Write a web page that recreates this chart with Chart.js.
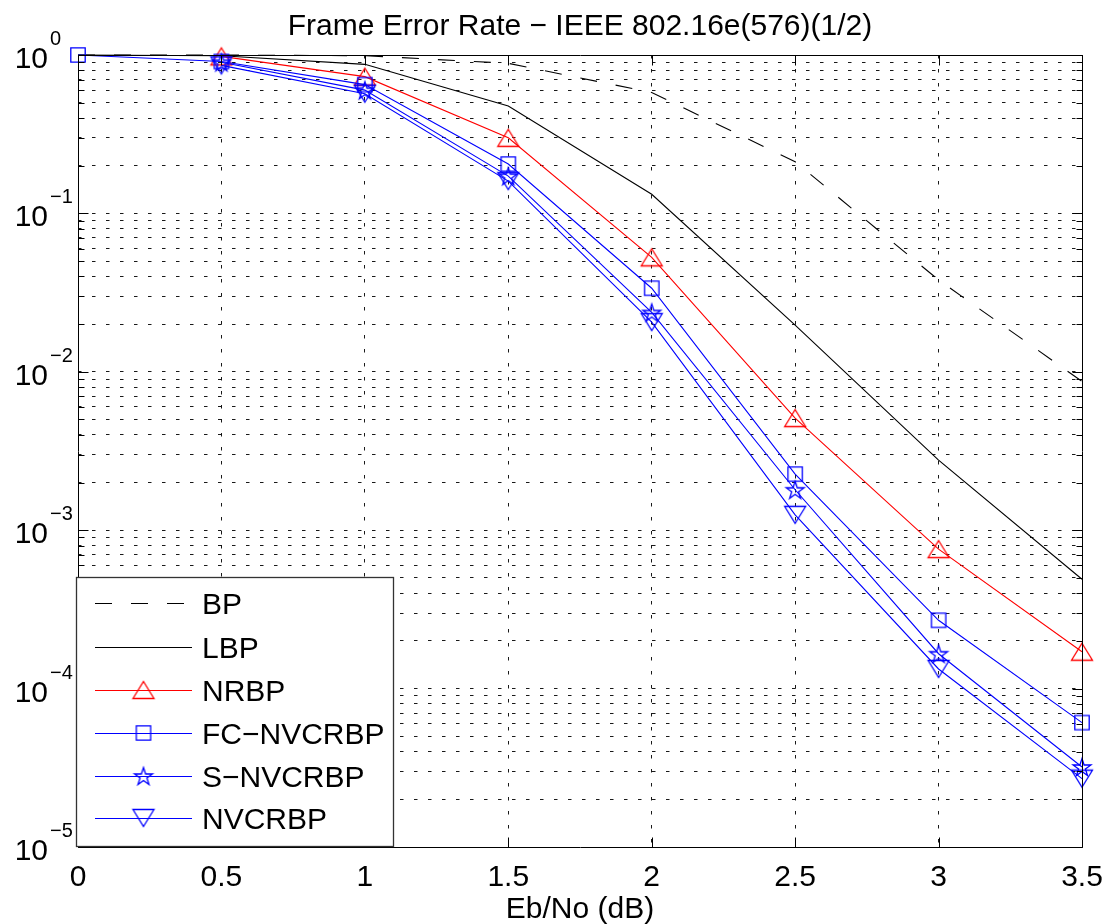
<!DOCTYPE html>
<html><head><meta charset="utf-8">
<script src="https://cdn.jsdelivr.net/npm/chart.js@4.4.0/dist/chart.umd.min.js"></script>
<style>html,body{margin:0;padding:0;background:#fff;}canvas{display:block;}</style>
</head><body>
<canvas id="c" width="1105" height="924"></canvas>
<script>
// ---- data ----
const ebno = [0, 0.5, 1, 1.5, 2, 2.5, 3, 3.5];
const bp       = [1.0, 1.0, 0.99, 0.886, 0.58, 0.212, 0.038, 0.0087];
const lbp      = [1.0, 0.99, 0.873, 0.477, 0.132, 0.0197, 0.00277, 0.00049];
const nrbp     = [null, 0.98, 0.73, 0.30, 0.0528, 0.0051, 0.00076, 0.000171];
const fcnvcrbp = [1.0, 0.91, 0.65, 0.205, 0.0337, 0.00226, 0.00027, 0.000061];
const snvcrbp  = [null, 0.90, 0.60, 0.172, 0.0237, 0.0018, 0.000166, 0.000032];
const nvcrbp   = [null, 0.86, 0.57, 0.16, 0.0206, 0.00125, 0.000133, 0.000027];
const seriesNames = ['BP', 'LBP', 'NRBP', 'FC\u2212NVCRBP', 'S\u2212NVCRBP', 'NVCRBP'];
const xTicks = [0, 0.5, 1, 1.5, 2, 2.5, 3, 3.5];
const xTickLabels = ['0', '0.5', '1', '1.5', '2', '2.5', '3', '3.5'];
const yMajor = [1, 1e-1, 1e-2, 1e-3, 1e-4, 1e-5];
const yExpLabels = ['0', '\u22121', '\u22122', '\u22123', '\u22124', '\u22125'];
const yMinorMantissa = [2, 3, 4, 5, 6, 7, 8, 9];
const titleText = 'Frame Error Rate \u2212 IEEE 802.16e(576)(1/2)';
const xTitle = 'Eb/No (dB)';

// ---- tick values ----
const yTickVals = [];
for (let e = -5; e <= 0; e++) {
  yTickVals.push(Math.pow(10, e));
  if (e < 0) yMinorMantissa.forEach(m => yTickVals.push(m * Math.pow(10, e)));
}
const isMajorY = v => yMajor.some(m => Math.abs(Math.log10(v) - Math.log10(m)) < 1e-9);

// ---- markers ----
function makeMarker(shape, color) {
  const s = 28, c = document.createElement('canvas');
  c.width = s; c.height = s;
  const g = c.getContext('2d');
  g.strokeStyle = color; g.lineWidth = 1.3; g.lineJoin = 'miter';
  const cx = s / 2, cy = s / 2;
  g.beginPath();
  if (shape === 'up') {
    g.moveTo(cx, cy - 8.5); g.lineTo(cx + 10.5, cy + 8.5); g.lineTo(cx - 10.5, cy + 8.5); g.closePath();
  } else if (shape === 'down') {
    g.moveTo(cx, cy + 8.5); g.lineTo(cx + 10.5, cy - 8.5); g.lineTo(cx - 10.5, cy - 8.5); g.closePath();
  } else if (shape === 'square') {
    g.rect(cx - 7.2, cy - 7.2, 14.4, 14.4);
  } else if (shape === 'star') {
    const R = 9.4, r = 3.6, oy = 0.9;
    for (let k = 0; k < 10; k++) {
      const a = -Math.PI / 2 + k * Math.PI / 5;
      const rr = (k % 2) ? r : R;
      const px = cx + rr * Math.cos(a), py = cy + oy + rr * Math.sin(a);
      if (k) g.lineTo(px, py); else g.moveTo(px, py);
    }
    g.closePath();
  }
  g.stroke();
  return c;
}
const RED = '#ff0000', BLUE = '#0000ff', BLACK = '#000000';
const mUp = makeMarker('up', RED), mSq = makeMarker('square', BLUE),
      mStar = makeMarker('star', BLUE), mDown = makeMarker('down', BLUE);

const seriesValues = [bp, lbp, nrbp, fcnvcrbp, snvcrbp, nvcrbp];
const seriesColors = [BLACK, BLACK, RED, BLUE, BLUE, BLUE];
const seriesDash = [[17, 19], [], [], [], [], []];
const seriesMarkers = [null, null, mUp, mSq, mStar, mDown];

const datasets = seriesValues.map((vals, i) => ({
  label: seriesNames[i],
  data: ebno.map((x, j) => ({ x, y: vals[j] })),
  borderColor: seriesColors[i],
  backgroundColor: 'rgba(0,0,0,0)',
  borderWidth: 1.1,
  borderDash: seriesDash[i],
  pointStyle: seriesMarkers[i] || 'circle',
  pointRadius: seriesMarkers[i] ? 10 : 0,
  pointHoverRadius: seriesMarkers[i] ? 10 : 0,
  tension: 0,
  fill: false,
  clip: false,
  order: 6 - i
}));

const FONT = '"Liberation Sans", Arial, Helvetica, sans-serif';
const al = v => Math.round(v) + 0.5;

const decor = {
  id: 'decor',
  afterDatasetsDraw(chart) {
    const { ctx, chartArea: a, scales: { x, y } } = chart;
    const L = al(a.left), R = al(a.right), T = al(a.top), B = al(a.bottom);
    ctx.save();
    ctx.setLineDash([]);
    ctx.strokeStyle = '#000'; ctx.lineWidth = 1;
    ctx.beginPath();
    ctx.rect(L, T, R - L, B - T);
    ctx.stroke();
    ctx.beginPath();
    xTicks.forEach(v => {
      const px = al(x.getPixelForValue(v));
      ctx.moveTo(px, B); ctx.lineTo(px, B - 10);
      ctx.moveTo(px, T); ctx.lineTo(px, T + 10);
    });
    yTickVals.forEach(v => {
      const py = al(y.getPixelForValue(v));
      const len = isMajorY(v) ? 10 : 6;
      ctx.moveTo(L, py); ctx.lineTo(L + len, py);
      ctx.moveTo(R, py); ctx.lineTo(R - len, py);
    });
    ctx.stroke();
    ctx.restore();
  },
  afterDraw(chart) {
    const { ctx, chartArea: a, scales: { x, y } } = chart;
    ctx.save();
    ctx.fillStyle = '#000';
    ctx.font = '30px ' + FONT;
    ctx.textAlign = 'center'; ctx.textBaseline = 'alphabetic';
    ctx.fillText(titleText, (a.left + a.right) / 2, 35);
    xTicks.forEach((v, i) => ctx.fillText(xTickLabels[i], x.getPixelForValue(v), 886));
    ctx.fillText(xTitle, (a.left + a.right) / 2, 918);
    yMajor.forEach((v, i) => {
      const py = y.getPixelForValue(v);
      ctx.font = '30px ' + FONT;
      ctx.textAlign = 'right';
      ctx.fillText('10', 48, py + 13);
      ctx.font = '20px ' + FONT;
      ctx.textAlign = 'left';
      ctx.fillText(yExpLabels[i], 50, py - 10);
    });
    // legend
    const lx0 = 76, ly0 = 577, lx1 = 393, ly1 = 846;
    ctx.fillStyle = '#fff';
    ctx.fillRect(lx0, ly0, lx1 - lx0, ly1 - ly0);
    ctx.strokeStyle = '#333'; ctx.lineWidth = 1.3;
    ctx.strokeRect(lx0 + 0.5, ly0 + 0.5, lx1 - lx0, ly1 - ly0);
    const rows = [603, 647, 690, 733, 776, 818];
    seriesNames.forEach((name, i) => {
      const ry = rows[i];
      ctx.strokeStyle = seriesColors[i]; ctx.lineWidth = 1.1;
      ctx.setLineDash(seriesDash[i]);
      ctx.beginPath(); ctx.moveTo(95, ry + 0.5); ctx.lineTo(192, ry + 0.5); ctx.stroke();
      ctx.setLineDash([]);
      if (seriesMarkers[i]) {
        const m = seriesMarkers[i];
        ctx.drawImage(m, 143.5 - m.width / 2, ry - m.height / 2);
      }
      ctx.fillStyle = '#000';
      ctx.font = '30px ' + FONT; ctx.textAlign = 'left';
      ctx.fillText(name, 202, ry + 11);
    });
    ctx.restore();
  }
};

const gridOpts = { drawTicks: false, color: 'rgba(0,0,0,0.9)', lineWidth: 1 };
new Chart(document.getElementById('c'), {
  type: 'line',
  data: { datasets },
  options: {
    responsive: false,
    animation: false,
    devicePixelRatio: 1,
    layout: { padding: { left: 78, top: 55, right: 23, bottom: 77 } },
    plugins: { legend: { display: false }, title: { display: false }, tooltip: { enabled: false } },
    events: [],
    scales: {
      x: {
        type: 'linear', min: 0, max: 3.5,
        afterBuildTicks: s => { s.ticks = xTicks.map(v => ({ value: v })); },
        ticks: { display: false },
        grid: gridOpts,
        border: { display: false, dash: [3.5, 10.5] }
      },
      y: {
        type: 'logarithmic', min: 1e-5, max: 1,
        afterBuildTicks: s => { s.ticks = yTickVals.map(v => ({ value: v })); },
        ticks: { display: false },
        grid: gridOpts,
        border: { display: false, dash: [3.5, 10.5] }
      }
    }
  },
  plugins: [decor]
});
</script>
</body></html>
